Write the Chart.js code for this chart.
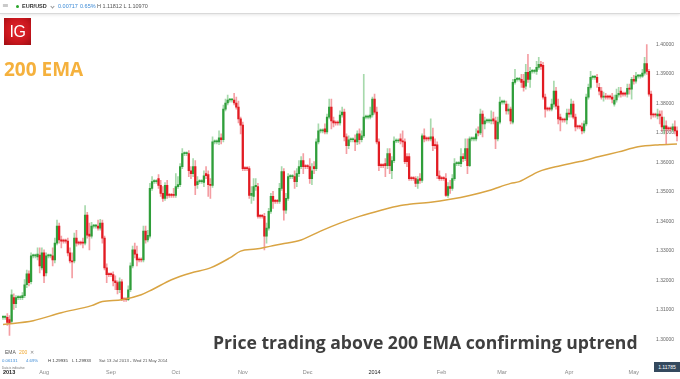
<!DOCTYPE html>
<html>
<head>
<meta charset="utf-8">
<script src="https://cdn.jsdelivr.net/npm/chart.js@4.4.1/dist/chart.umd.min.js"></script>
<style>
html,body{margin:0;padding:0;background:#fff;width:680px;height:379px;overflow:hidden;font-family:"Liberation Sans",Arial,sans-serif;}
#wrap{position:relative;width:680px;height:379px;}
#c{position:absolute;left:0;top:0;}
.ov{position:absolute;white-space:nowrap;line-height:1;}
#hdr{position:absolute;left:0;top:0;width:680px;height:13px;background:#fff;border-bottom:1px solid #d9d9d9;box-shadow:0 1px 3px rgba(0,0,0,0.10);}
#logo{position:absolute;left:4px;top:18px;width:27px;height:27px;background:radial-gradient(circle at 50% 45%,#e3262c 0%,#c8161d 60%,#9d0d12 100%);color:#fff;font-family:"Liberation Sans",Arial,sans-serif;font-size:16px;line-height:27px;text-align:center;letter-spacing:-0.5px;}
#box{position:absolute;left:654px;top:362px;width:26px;height:10px;background:#34495e;color:#fff;font-size:5px;line-height:10px;text-align:center;}
</style>
</head>
<body>
<div id="wrap">
<canvas id="c" width="680" height="379"></canvas>

<div id="hdr">
  <div class="ov" style="left:2px;top:2px;font-size:8px;color:#9a9a9a;font-family:'DejaVu Sans',sans-serif;">≡</div>
  <div style="position:absolute;left:16px;top:5px;width:3px;height:3px;border-radius:50%;background:#2aa52a;"></div>
  <div class="ov" style="left:22px;top:4px;font-size:5.5px;font-weight:bold;color:#333;">EUR/USD</div>
  <div style="position:absolute;left:51px;top:4.5px;width:2px;height:2px;border-right:1px solid #999;border-bottom:1px solid #999;transform:rotate(45deg);"></div>
  <div class="ov" style="left:58px;top:4px;font-size:5.5px;color:#3b8ad6;">0.00717</div>
  <div class="ov" style="left:80px;top:4px;font-size:5.5px;color:#3b8ad6;">0.65%</div>
  <div class="ov" style="left:97px;top:4px;font-size:5.5px;color:#555;">H 1.11812 L 1.10970</div>
</div>

<div id="logo">IG</div>
<div class="ov" style="left:4px;top:59.7px;font-family:'Open Sans',sans-serif;font-weight:bold;font-size:19px;color:#f5b13d;">200 EMA</div>

<div class="ov" style="left:213px;top:333.8px;font-family:'Open Sans',sans-serif;font-weight:bold;font-size:17.6px;color:#3f3f3f;">Price trading above 200 EMA confirming uptrend</div>

<div class="ov" style="left:5px;top:349.5px;font-size:5px;color:#555;">EMA</div>
<div class="ov" style="left:19px;top:349.5px;font-size:5px;color:#f0a830;">200</div>
<div class="ov" style="left:30px;top:349.5px;font-size:5px;color:#888;font-family:'DejaVu Sans',sans-serif;">✕</div>
<div class="ov" style="left:2px;top:358.6px;font-size:4.3px;color:#3b8ad6;">0.06131</div>
<div class="ov" style="left:26px;top:358.6px;font-size:4.3px;color:#3b8ad6;">4.69%</div>
<div class="ov" style="left:48px;top:358.6px;font-size:4.3px;color:#333;">H 1.29935</div>
<div class="ov" style="left:72px;top:358.6px;font-size:4.3px;color:#333;">L 1.29933</div>
<div class="ov" style="left:99px;top:358.6px;font-size:4.3px;color:#555;">Sat 13 Jul 2013 - Wed 21 May 2014</div>
<div class="ov" style="left:2px;top:366.5px;font-size:3px;color:#777;">Data is indicative</div>

<div id="box">1.11785</div>
</div>

<script>
// ---- Daily OHLC, EUR/USD, one slot per calendar day from Sat 13 Jul 2013 (7 slots per line = one week) ----
const opens = [
1.3074,1.3074,1.3074,1.3067,1.3060,1.3141,1.3121,
1.3141,1.3141,1.3141,1.3148,1.3185,1.3222,1.3195,
1.3283,1.3283,1.3279,1.3286,1.3242,1.3293,1.3225,
1.3283,1.3283,1.3283,1.3269,1.3326,1.3384,1.3337,
1.3333,1.3333,1.3333,1.3293,1.3266,1.3266,1.3343,
1.3326,1.3326,1.3330,1.3326,1.3421,1.3357,1.3350,
1.3384,1.3384,1.3384,1.3377,1.3394,1.3343,1.3242,
1.3219,1.3219,1.3219,1.3198,1.3192,1.3168,1.3195,
1.3134,1.3134,1.3134,1.3168,1.3249,1.3303,1.3289,
1.3269,1.3269,1.3269,1.3367,1.3337,1.3350,1.3512,
1.3535,1.3535,1.3545,1.3522,1.3495,1.3478,1.3522,
1.3488,1.3488,1.3491,1.3488,1.3518,1.3525,1.3586,
1.3630,1.3630,1.3630,1.3572,1.3562,1.3586,1.3525,
1.3535,1.3535,1.3532,1.3562,1.3559,1.3525,1.3522,
1.3670,1.3670,1.3670,1.3684,1.3677,1.3781,1.3802,
1.3812,1.3812,1.3812,1.3802,1.3788,1.3748,1.3727,
1.3579,1.3579,1.3579,1.3488,1.3485,1.3518,1.3518,
1.3417,1.3417,1.3417,1.3350,1.3377,1.3434,1.3485,
1.3468,1.3468,1.3468,1.3512,1.3569,1.3438,1.3478,
1.3552,1.3552,1.3552,1.3535,1.3562,1.3586,1.3606,
1.3586,1.3586,1.3586,1.3545,1.3586,1.3579,1.3670,
1.3707,1.3707,1.3714,1.3704,1.3754,1.3788,1.3741,
1.3734,1.3734,1.3734,1.3761,1.3771,1.3687,1.3657,
1.3677,1.3677,1.3677,1.3670,1.3697,1.3677,1.3690,
1.3754,1.3754,1.3754,1.3761,1.3815,1.3771,1.3670,
1.3589,1.3589,1.3596,1.3589,1.3630,1.3572,1.3606,
1.3673,1.3673,1.3680,1.3673,1.3670,1.3620,1.3620,
1.3545,1.3545,1.3545,1.3529,1.3545,1.3539,1.3690,
1.3680,1.3680,1.3680,1.3687,1.3660,1.3660,1.3555,
1.3545,1.3545,1.3545,1.3488,1.3518,1.3512,1.3545,
1.3596,1.3596,1.3596,1.3620,1.3613,1.3647,1.3589,
1.3680,1.3680,1.3680,1.3707,1.3700,1.3764,1.3731,
1.3741,1.3741,1.3741,1.3748,1.3741,1.3680,1.3737,
1.3805,1.3805,1.3798,1.3775,1.3781,1.3737,1.3872,
1.3882,1.3882,1.3882,1.3876,1.3859,1.3906,1.3882,
1.3909,1.3909,1.3909,1.3923,1.3933,1.3930,1.3822,
1.3781,1.3781,1.3781,1.3798,1.3842,1.3791,1.3754,
1.3744,1.3744,1.3744,1.3768,1.3764,1.3798,1.3754,
1.3721,1.3721,1.3721,1.3707,1.3731,1.3822,1.3855,
1.3889,1.3889,1.3889,1.3855,1.3842,1.3822,1.3825,
1.3822,1.3822,1.3822,1.3798,1.3812,1.3829,1.3842,
1.3832,1.3832,1.3832,1.3852,1.3849,1.3882,1.3876,
1.3893,1.3893,1.3893,1.3903,1.3936,1.3909,1.3832,
1.3761,1.3761,1.3758,1.3764,1.3754,1.3714,1.3724,
1.3714,1.3714,1.3711,1.3721,1.3707
];
const highs = [
1.3080,1.3080,1.3087,1.3080,1.3168,1.3154,1.3148,
1.3148,1.3148,1.3158,1.3202,1.3235,1.3232,1.3293,
1.3289,1.3289,1.3310,1.3310,1.3310,1.3303,1.3293,
1.3289,1.3289,1.3310,1.3343,1.3404,1.3394,1.3350,
1.3340,1.3340,1.3343,1.3310,1.3293,1.3360,1.3370,
1.3333,1.3333,1.3343,1.3454,1.3431,1.3394,1.3397,
1.3390,1.3390,1.3404,1.3407,1.3404,1.3350,1.3256,
1.3225,1.3225,1.3229,1.3215,1.3198,1.3208,1.3202,
1.3141,1.3141,1.3181,1.3259,1.3316,1.3326,1.3316,
1.3276,1.3276,1.3384,1.3384,1.3370,1.3529,1.3552,
1.3542,1.3542,1.3559,1.3539,1.3518,1.3532,1.3539,
1.3495,1.3495,1.3512,1.3562,1.3552,1.3596,1.3647,
1.3636,1.3636,1.3640,1.3586,1.3613,1.3606,1.3552,
1.3542,1.3542,1.3572,1.3586,1.3572,1.3545,1.3687,
1.3677,1.3677,1.3707,1.3697,1.3795,1.3815,1.3829,
1.3818,1.3818,1.3835,1.3822,1.3808,1.3754,1.3737,
1.3586,1.3586,1.3586,1.3518,1.3545,1.3545,1.3529,
1.3424,1.3424,1.3427,1.3394,1.3444,1.3495,1.3502,
1.3475,1.3475,1.3529,1.3586,1.3579,1.3495,1.3562,
1.3559,1.3559,1.3572,1.3579,1.3606,1.3620,1.3630,
1.3593,1.3593,1.3613,1.3596,1.3603,1.3680,1.3731,
1.3714,1.3714,1.3731,1.3764,1.3815,1.3815,1.3754,
1.3741,1.3741,1.3775,1.3788,1.3781,1.3697,1.3690,
1.3684,1.3684,1.3694,1.3707,1.3714,1.3707,1.3899,
1.3761,1.3761,1.3788,1.3822,1.3832,1.3788,1.3680,
1.3596,1.3596,1.3613,1.3647,1.3647,1.3620,1.3687,
1.3680,1.3680,1.3697,1.3707,1.3680,1.3630,1.3630,
1.3552,1.3552,1.3552,1.3552,1.3562,1.3697,1.3714,
1.3687,1.3687,1.3748,1.3717,1.3680,1.3670,1.3572,
1.3552,1.3552,1.3562,1.3532,1.3539,1.3559,1.3613,
1.3603,1.3603,1.3647,1.3630,1.3680,1.3680,1.3687,
1.3687,1.3687,1.3714,1.3721,1.3781,1.3775,1.3754,
1.3748,1.3748,1.3775,1.3771,1.3754,1.3754,1.3822,
1.3812,1.3812,1.3808,1.3798,1.3788,1.3882,1.3916,
1.3889,1.3889,1.3899,1.3899,1.3933,1.3967,1.3923,
1.3916,1.3916,1.3943,1.3957,1.3943,1.3940,1.3832,
1.3788,1.3788,1.3815,1.3876,1.3855,1.3815,1.3764,
1.3751,1.3751,1.3781,1.3781,1.3815,1.3808,1.3764,
1.3727,1.3727,1.3734,1.3741,1.3832,1.3866,1.3909,
1.3896,1.3896,1.3899,1.3869,1.3855,1.3839,1.3835,
1.3829,1.3829,1.3835,1.3829,1.3849,1.3855,1.3855,
1.3839,1.3839,1.3866,1.3866,1.3889,1.3896,1.3906,
1.3899,1.3899,1.3916,1.3957,1.4000,1.3916,1.3842,
1.3768,1.3768,1.3781,1.3775,1.3775,1.3754,1.3741,
1.3721,1.3721,1.3731,1.3741,1.3721
];
const lows = [
1.3067,1.3067,1.3047,1.3013,1.3053,1.3101,1.3107,
1.3134,1.3134,1.3134,1.3141,1.3175,1.3181,1.3188,
1.3276,1.3276,1.3269,1.3225,1.3235,1.3192,1.3215,
1.3276,1.3276,1.3249,1.3259,1.3320,1.3326,1.3310,
1.3326,1.3326,1.3283,1.3259,1.3208,1.3259,1.3316,
1.3320,1.3320,1.3310,1.3320,1.3343,1.3303,1.3343,
1.3377,1.3377,1.3370,1.3370,1.3326,1.3235,1.3192,
1.3212,1.3212,1.3181,1.3168,1.3154,1.3158,1.3131,
1.3128,1.3128,1.3131,1.3161,1.3242,1.3276,1.3249,
1.3262,1.3262,1.3262,1.3326,1.3330,1.3343,1.3505,
1.3529,1.3529,1.3512,1.3485,1.3468,1.3471,1.3478,
1.3481,1.3481,1.3481,1.3481,1.3512,1.3518,1.3579,
1.3623,1.3623,1.3552,1.3545,1.3552,1.3491,1.3512,
1.3529,1.3529,1.3518,1.3545,1.3485,1.3478,1.3515,
1.3663,1.3663,1.3660,1.3663,1.3670,1.3775,1.3795,
1.3805,1.3805,1.3795,1.3781,1.3734,1.3697,1.3572,
1.3572,1.3572,1.3478,1.3461,1.3471,1.3505,1.3411,
1.3411,1.3411,1.3303,1.3326,1.3370,1.3427,1.3444,
1.3461,1.3461,1.3461,1.3505,1.3404,1.3427,1.3471,
1.3545,1.3545,1.3512,1.3518,1.3552,1.3579,1.3562,
1.3579,1.3579,1.3529,1.3525,1.3562,1.3572,1.3663,
1.3700,1.3700,1.3697,1.3697,1.3748,1.3714,1.3721,
1.3727,1.3727,1.3727,1.3754,1.3673,1.3630,1.3647,
1.3670,1.3670,1.3640,1.3660,1.3663,1.3670,1.3684,
1.3748,1.3748,1.3748,1.3754,1.3764,1.3663,1.3572,
1.3582,1.3582,1.3552,1.3579,1.3562,1.3545,1.3599,
1.3667,1.3667,1.3663,1.3653,1.3596,1.3586,1.3539,
1.3539,1.3539,1.3518,1.3512,1.3529,1.3532,1.3670,
1.3673,1.3673,1.3673,1.3640,1.3647,1.3545,1.3539,
1.3539,1.3539,1.3485,1.3481,1.3495,1.3505,1.3539,
1.3589,1.3589,1.3586,1.3603,1.3606,1.3562,1.3586,
1.3673,1.3673,1.3673,1.3690,1.3694,1.3687,1.3714,
1.3734,1.3734,1.3731,1.3731,1.3647,1.3673,1.3731,
1.3798,1.3798,1.3764,1.3764,1.3731,1.3731,1.3866,
1.3876,1.3876,1.3855,1.3842,1.3849,1.3872,1.3855,
1.3903,1.3903,1.3899,1.3916,1.3916,1.3815,1.3754,
1.3775,1.3775,1.3775,1.3788,1.3781,1.3731,1.3707,
1.3737,1.3737,1.3731,1.3754,1.3754,1.3748,1.3707,
1.3714,1.3714,1.3697,1.3700,1.3724,1.3815,1.3849,
1.3882,1.3882,1.3855,1.3829,1.3815,1.3808,1.3815,
1.3815,1.3815,1.3802,1.3791,1.3805,1.3822,1.3822,
1.3825,1.3825,1.3822,1.3832,1.3815,1.3866,1.3869,
1.3886,1.3886,1.3889,1.3896,1.3899,1.3825,1.3748,
1.3754,1.3754,1.3748,1.3731,1.3707,1.3697,1.3663,
1.3707,1.3707,1.3704,1.3697,1.3673
];
const closes = [
1.3074,1.3074,1.3057,1.3053,1.3151,1.3121,1.3141,
1.3141,1.3141,1.3148,1.3185,1.3222,1.3192,1.3283,
1.3283,1.3283,1.3289,1.3249,1.3293,1.3215,1.3283,
1.3283,1.3283,1.3269,1.3326,1.3384,1.3337,1.3333,
1.3333,1.3333,1.3293,1.3266,1.3262,1.3343,1.3326,
1.3326,1.3326,1.3326,1.3421,1.3353,1.3350,1.3384,
1.3384,1.3384,1.3377,1.3394,1.3343,1.3242,1.3219,
1.3219,1.3219,1.3198,1.3192,1.3168,1.3195,1.3134,
1.3134,1.3134,1.3168,1.3249,1.3303,1.3289,1.3269,
1.3269,1.3269,1.3367,1.3337,1.3353,1.3512,1.3535,
1.3535,1.3535,1.3522,1.3495,1.3478,1.3522,1.3488,
1.3488,1.3488,1.3488,1.3518,1.3525,1.3586,1.3630,
1.3630,1.3630,1.3572,1.3562,1.3586,1.3522,1.3535,
1.3535,1.3535,1.3555,1.3555,1.3525,1.3522,1.3670,
1.3670,1.3670,1.3684,1.3677,1.3781,1.3802,1.3812,
1.3812,1.3812,1.3802,1.3788,1.3748,1.3727,1.3579,
1.3579,1.3579,1.3488,1.3495,1.3518,1.3522,1.3417,
1.3417,1.3417,1.3350,1.3377,1.3434,1.3485,1.3468,
1.3468,1.3468,1.3512,1.3569,1.3438,1.3478,1.3552,
1.3552,1.3552,1.3535,1.3562,1.3586,1.3606,1.3586,
1.3586,1.3586,1.3545,1.3572,1.3579,1.3670,1.3707,
1.3707,1.3707,1.3704,1.3754,1.3788,1.3741,1.3734,
1.3734,1.3734,1.3761,1.3771,1.3687,1.3657,1.3677,
1.3677,1.3677,1.3670,1.3697,1.3677,1.3690,1.3754,
1.3754,1.3754,1.3761,1.3815,1.3771,1.3670,1.3589,
1.3589,1.3589,1.3589,1.3630,1.3589,1.3606,1.3673,
1.3673,1.3673,1.3673,1.3670,1.3603,1.3603,1.3545,
1.3545,1.3545,1.3529,1.3542,1.3539,1.3690,1.3680,
1.3680,1.3680,1.3687,1.3657,1.3657,1.3555,1.3545,
1.3545,1.3545,1.3488,1.3518,1.3512,1.3545,1.3596,
1.3596,1.3596,1.3620,1.3613,1.3647,1.3589,1.3680,
1.3680,1.3680,1.3697,1.3700,1.3764,1.3731,1.3741,
1.3741,1.3741,1.3744,1.3741,1.3680,1.3737,1.3805,
1.3805,1.3805,1.3775,1.3781,1.3741,1.3872,1.3882,
1.3882,1.3882,1.3872,1.3855,1.3906,1.3882,1.3909,
1.3909,1.3909,1.3923,1.3933,1.3926,1.3822,1.3781,
1.3781,1.3781,1.3798,1.3842,1.3791,1.3748,1.3744,
1.3744,1.3744,1.3768,1.3764,1.3798,1.3754,1.3721,
1.3721,1.3721,1.3707,1.3731,1.3822,1.3855,1.3889,
1.3889,1.3889,1.3872,1.3842,1.3822,1.3825,1.3822,
1.3822,1.3822,1.3815,1.3812,1.3829,1.3835,1.3832,
1.3832,1.3832,1.3852,1.3849,1.3882,1.3876,1.3893,
1.3893,1.3893,1.3903,1.3936,1.3909,1.3832,1.3761,
1.3761,1.3761,1.3764,1.3758,1.3721,1.3724,1.3714,
1.3714,1.3714,1.3721,1.3707,1.3690
];

// 200 EMA, read at these slot indices
const emaIdx = [0,14,27,41,46,55,64,69,78,87,96,105,110,117,124,129,138,147,156,165,175,184,188,198,207,216,225,235,239,248,258,267,276,285,294,304,312];
const emaVals = [1.3050,1.3063,1.3090,1.3114,1.3128,1.3134,1.3151,1.3168,1.3202,1.3225,1.3242,1.3276,1.3299,1.3306,1.3316,1.3323,1.3337,1.3367,1.3394,1.3417,1.3438,1.3454,1.3458,1.3465,1.3475,1.3488,1.3505,1.3529,1.3535,1.3569,1.3589,1.3603,1.3620,1.3636,1.3653,1.3660,1.3663];

// time-axis tick labels
const tickDates = ['2013-07-13','2013-08-01','2013-09-01','2013-10-01','2013-11-01','2013-12-01','2014-01-01','2014-02-01','2014-03-01','2014-04-01','2014-05-01'];
const tickNames = ['2013','Aug','Sep','Oct','Nov','Dec','2014','Feb','Mar','Apr','May'];

// y-axis tick range
const yTickMin = 1.30, yTickMax = 1.40, yStep = 0.01;

// categories: one per calendar day
const categories = [];
const t0 = Date.UTC(2013, 6, 13);
for (let k = 0; k < opens.length; k++) {
  categories.push(new Date(t0 + k * 86400000).toISOString().slice(0, 10));
}
const tickMap = {};
tickDates.forEach((d, i) => { tickMap[d] = tickNames[i]; });

const up = [];
let last = 1;
for (let k = 0; k < opens.length; k++) {
  if (closes[k] > opens[k]) last = 1; else if (closes[k] < opens[k]) last = -1;
  up.push(last);
}
const bodyData = categories.map((c, k) => [opens[k], closes[k]]);
const wickData = categories.map((c, k) => [lows[k], highs[k]]);
const bodyColors = up.map(u => u > 0 ? '#2f9e3a' : '#e21b22');
const wickColors = up.map(u => u > 0 ? 'rgba(60,170,70,0.45)' : 'rgba(230,40,50,0.45)');
const emaData = emaIdx.map((k, n) => ({ x: categories[k], y: emaVals[n] }));

new Chart(document.getElementById('c'), {
  data: {
    labels: categories,
    datasets: [
      { type: 'line', data: emaData, borderColor: '#d9a443', borderWidth: 1.5, pointRadius: 0,
        cubicInterpolationMode: 'monotone', tension: 0.4, order: 0 },
      { type: 'bar', data: bodyData, backgroundColor: bodyColors, barThickness: 1.6,
        minBarLength: 1, grouped: false, order: 1 },
      { type: 'bar', data: wickData, backgroundColor: wickColors, barThickness: 1,
        grouped: false, order: 2 }
    ]
  },
  options: {
    responsive: false,
    animation: false,
    devicePixelRatio: 1,
    layout: { padding: 0 },
    plugins: { legend: { display: false }, tooltip: { enabled: false } },
    scales: {
      x: {
        type: 'category',
        offset: true,
        grid: { display: false, drawTicks: false },
        border: { display: false },
        ticks: {
          autoSkip: false, maxRotation: 0, minRotation: 0, align: 'inner', padding: 3,
          font: (ctx) => ({ size: 5.5, family: 'Liberation Sans', weight: ctx.index === 0 ? 'bold' : 'normal' }),
          color: (ctx) => {
            const lab = tickMap[categories[ctx.index]];
            return (lab === '2013' || lab === '2014') ? '#222' : '#888';
          },
          callback: (v, i) => tickMap[categories[i]] || ''
        }
      },
      y: {
        position: 'right',
        min: 1.29077,
        max: 1.41515,
        grid: { display: false, drawTicks: false },
        border: { display: false },
        afterFit: (s) => { s.width = 0; },
        ticks: {
          mirror: true, padding: -4, stepSize: yStep,
          font: { size: 5, family: 'Liberation Sans' },
          color: '#666',
          callback: (v) => (v > yTickMin - 0.0005 && v < yTickMax + 0.0005) ? v.toFixed(5) : ''
        }
      }
    }
  }
});
</script>
</body>
</html>
